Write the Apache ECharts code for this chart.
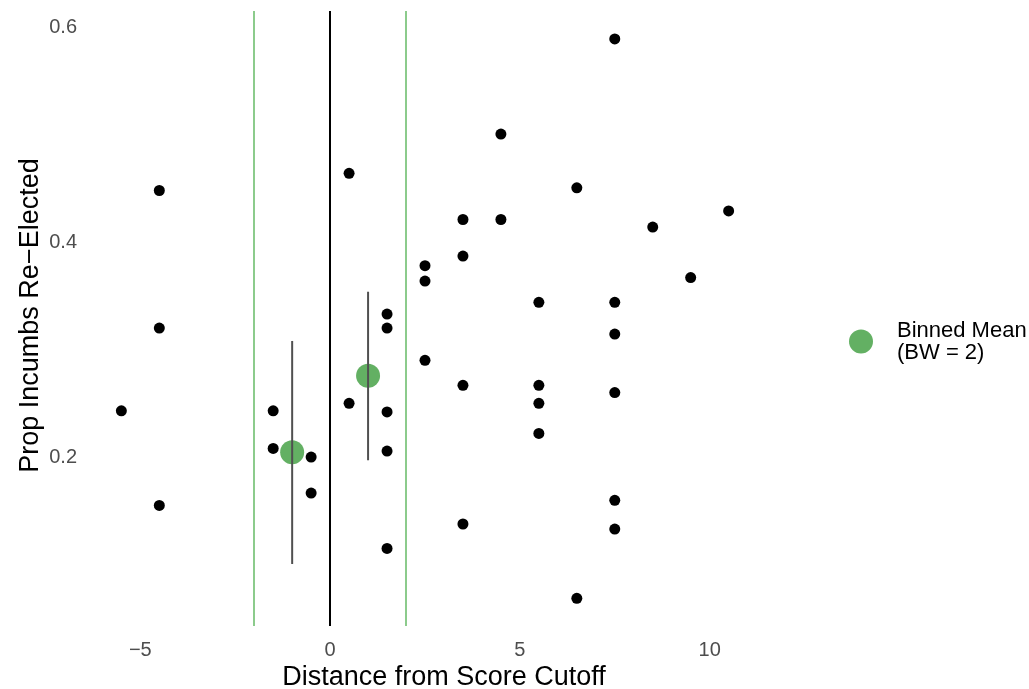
<!DOCTYPE html>
<html>
<head>
<meta charset="utf-8">
<script src="https://cdn.jsdelivr.net/npm/echarts@6/dist/echarts.min.js"></script>
<style>html,body{margin:0;padding:0;background:#fff;}#c{width:1029px;height:689px;}</style>
</head>
<body>
<div id="c"></div>
<script>
// Scatter points (distance from cutoff, proportion re-elected)
var pointX = [-5.5, -4.5, -4.5, -4.5, -1.5, -1.5, -0.5, -0.5, 0.5, 0.5,
  1.5, 1.5, 1.5, 1.5, 1.5, 2.5, 2.5, 2.5, 3.5, 3.5, 3.5, 3.5, 4.5, 4.5,
  5.5, 5.5, 5.5, 5.5, 6.5, 6.5, 7.5, 7.5, 7.5, 7.5, 7.5, 7.5, 8.5, 9.5, 10.5];
var pointY = [0.243, 0.448, 0.320, 0.155, 0.243, 0.208, 0.200, 0.1665, 0.464, 0.250,
  0.333, 0.320, 0.242, 0.2056, 0.115, 0.378, 0.3637, 0.290, 0.421, 0.387, 0.2667, 0.1377, 0.5005, 0.421,
  0.344, 0.2667, 0.250, 0.222, 0.4505, 0.0686, 0.589, 0.344, 0.3144, 0.260, 0.1597, 0.133, 0.414, 0.367, 0.429];
// Binned means (BW = 2) with interval bounds
var binX = [-1, 1];
var binMean = [0.2044, 0.2757];
var binLo = [0.1005, 0.197];
var binHi = [0.308, 0.3538];
// Vertical reference lines
var cutoffLines = [-2, 0, 2];
var cutoffColors = ['#8ccb8c', '#000000', '#8ccb8c'];
var xTicks = [-5, 0, 5, 10];
var yTicks = [0.2, 0.4, 0.6];

var pts = pointX.map(function (x, i) { return [x, pointY[i]]; });
var bins = binX.map(function (x, i) { return [x, binMean[i]]; });
var bars = binX.map(function (x, i) { return [x, binLo[i], binHi[i]]; });

var chart = echarts.init(document.getElementById('c'), null, {renderer: 'canvas'});
chart.setOption({
  animation: false,
  backgroundColor: '#ffffff',
  textStyle: {fontFamily: 'Liberation Sans, Arial, sans-serif'},
  grid: {left: 91, right: 270, top: 11, bottom: 63, containLabel: false, outerBoundsMode: 'none'},
  xAxis: {
    type: 'value', min: -6.3, max: 11.3,
    axisLine: {show: false}, axisTick: {show: false}, splitLine: {show: false},
    axisLabel: {
      customValues: xTicks, color: '#4d4d4d', fontSize: 20, margin: 14,
      formatter: function (v) { return String(v).replace('-', '\u2212'); }
    },
    name: 'Distance from Score Cutoff', nameLocation: 'middle', nameGap: 38, nameMoveOverlap: false,
    nameTextStyle: {color: '#000', fontSize: 27, padding: [0, 0, 0, 38]}
  },
  yAxis: {
    type: 'value', min: 0.0428, max: 0.615,
    axisLine: {show: false}, axisTick: {show: false}, splitLine: {show: false},
    axisLabel: {
      customValues: yTicks, color: '#4d4d4d', fontSize: 20, margin: 14,
      formatter: function (v) { return v.toFixed(1); }
    },
    name: 'Prop Incumbs Re\u2212Elected', nameLocation: 'middle', nameGap: 47, nameMoveOverlap: false,
    nameTextStyle: {color: '#000', fontSize: 27, padding: [0, 0, 0, 6]}
  },
  legend: {
    show: true, orient: 'vertical', left: 844, top: 311,
    itemWidth: 24, itemHeight: 24,
    data: [{name: 'Binned Mean', icon: 'circle'}],
    formatter: function () { return 'Binned Mean\n(BW = 2)'; },
    textStyle: {color: '#000', fontSize: 22, lineHeight: 22, padding: [7, 0, 0, 19]},
    selectedMode: false
  },
  series: [
    {
      type: 'scatter', name: 'points', data: pts, symbolSize: 11,
      itemStyle: {color: '#000', opacity: 1}, z: 3,
      markLine: {
        silent: true, symbol: 'none', label: {show: false},
        data: cutoffLines.map(function (x, i) {
          return {xAxis: x, lineStyle: {color: cutoffColors[i], width: 2, type: 'solid'}};
        })
      }
    },
    {
      type: 'scatter', name: 'Binned Mean', data: bins, symbolSize: 24,
      itemStyle: {color: '#63b063', opacity: 1}, z: 4
    },
    {
      type: 'custom', name: 'bars', data: bars, z: 5,
      renderItem: function (params, api) {
        var a = api.coord([api.value(0), api.value(1)]);
        var b = api.coord([api.value(0), api.value(2)]);
        return {type: 'line', shape: {x1: a[0], y1: a[1], x2: b[0], y2: b[1]},
          style: {stroke: '#505050', lineWidth: 2}};
      }
    }
  ]
});
</script>
</body>
</html>
